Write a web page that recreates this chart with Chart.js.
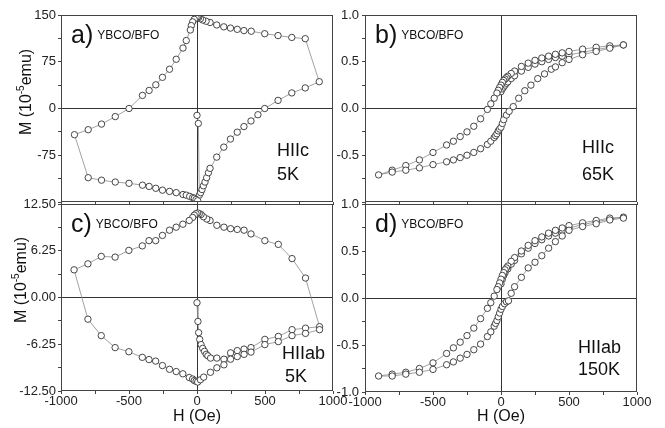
<!DOCTYPE html>
<html>
<head>
<meta charset="utf-8">
<script src="https://cdn.jsdelivr.net/npm/chart.js@4.4.1/dist/chart.umd.min.js"></script>
<style>
  html, body { margin: 0; padding: 0; background: #fff; }
  #wrap { position: relative; width: 665px; height: 428px; }
  #wrap canvas { position: absolute; left: 0; top: 0; }
</style>
</head>
<body>
<div id="wrap">
  <canvas id="ca" width="665" height="428"></canvas>
  <canvas id="cb" width="665" height="428"></canvas>
  <canvas id="cc" width="665" height="428"></canvas>
  <canvas id="cd" width="665" height="428"></canvas>
</div>
<script>
// ---- data (H in Oe, M in 1e-5 emu) ----
const hTicks = [-1000, -750, -500, -250, 0, 250, 500, 750, 1000];
const hLabels = ['-1000', '', '-500', '', '0', '', '500', '', '1000'];
const hLabelsNone = ['', '', '', '', '', '', '', '', ''];

// a) H||c, 5K
const aTicks = [-150, -112.5, -75, -37.5, 0, 37.5, 75, 112.5, 150];
const aTickLabels = ['', '', '-75', '', '0', '', '75', '', '150'];
const aH = [0, 10, 17, 27, 37, 47, 59, 71, 84, 96, 145, 197, 246, 296, 345, 397, 448, 498, 596, 697, 796, 899,
  796, 697, 596, 498, 399, 345, 296, 246, 197, 145, 96, 67, 42, 25, 12, 5,
  -7, -20, -32, -42, -49, -79, -103, -153, -202, -254, -303, -352, -401, -500, -601, -702, -800, -901,
  -800, -702, -601, -500, -401, -352, -303, -254, -202, -153, -103, -79, -54, -32, -20, -7, 5];
const aM = [-11, -24, -139, -135, -130, -124, -118, -111, -103, -96, -78, -62, -49, -38, -29, -20, -10, 0, 13, 25, 33, 43,
  112, 114, 117, 120, 124, 125, 127, 129, 131, 134, 138, 140, 142, 144, 146, 147,
  146, 143, 139, 133, 126, 109, 97, 79, 63, 50, 38, 29, 21, 0, -13, -25, -34, -42,
  -111, -115, -118, -120, -123, -125, -128, -131, -133, -135, -138, -139, -141, -143, -144, -146, -148];

// b) H||c, 65K
const bTicks = [-1, -0.75, -0.5, -0.25, 0, 0.25, 0.5, 0.75, 1];
const bTickLabels = ['', '', '-0.5', '', '0.0', '', '0.5', '', '1.0'];
const bH = [0, 10, 20, 30, 40, 50, 75, 100, 150, 200, 250, 300, 350, 400, 450, 500, 600, 700, 800, 900,
  800, 700, 600, 500, 450, 400, 350, 300, 250, 200, 150, 100, 75, 50, 40, 30, 20, 10, 0,
  -10, -20, -30, -50, -75, -100, -150, -200, -250, -300, -350, -400, -500, -600, -700, -800, -900,
  -800, -700, -600, -500, -400, -350, -300, -250, -200, -150, -100, -75, -50, -40, -30, -20, -10, 0,
  10, 20, 40, 60, 90, 130, 175, 220, 270, 320, 370, 400, 450, 500, 600, 700, 800, 900];
const bM = [0.18, 0.21, 0.23, 0.25, 0.27, 0.285, 0.32, 0.35, 0.40, 0.44, 0.475, 0.50, 0.525, 0.545, 0.56, 0.575, 0.60, 0.63, 0.655, 0.68,
  0.67, 0.655, 0.635, 0.61, 0.595, 0.58, 0.56, 0.54, 0.515, 0.485, 0.45, 0.40, 0.375, 0.345, 0.33, 0.315, 0.30, 0.28, 0.25,
  0.225, 0.195, 0.165, 0.11, 0.05, -0.01, -0.11, -0.19, -0.25, -0.30, -0.35, -0.39, -0.47, -0.55, -0.61, -0.66, -0.71,
  -0.68, -0.66, -0.635, -0.60, -0.57, -0.55, -0.525, -0.50, -0.47, -0.43, -0.385, -0.35, -0.31, -0.29, -0.27, -0.24, -0.22, -0.20,
  -0.16, -0.12, -0.07, -0.03, 0.02, 0.11, 0.19, 0.25, 0.32, 0.37, 0.42, 0.445, 0.49, 0.525, 0.575, 0.61, 0.645, 0.68];

// c) H||ab, 5K
const cTicks = [-12.5, -9.375, -6.25, -3.125, 0, 3.125, 6.25, 9.375, 12.5];
const cTickLabels = ['-12.50', '', '-6.25', '', '0.00', '', '6.25', '', '12.50'];
const cH = [0, 7, 12, 20, 30, 42, 55, 68, 80, 100, 146, 198, 247, 296, 346, 397, 499, 598, 699, 798, 901,
  798, 699, 598, 499, 397, 346, 296, 247, 198, 146, 96, 72, 47, 30, 17, 5,
  -7, -20, -32, -57, -104, -153, -202, -254, -304, -353, -402, -501, -602, -704, -802, -904,
  -802, -704, -602, -501, -402, -353, -304, -254, -202, -153, -104, -57, -32, -20, -7, 5,
  25, 49, 99, 146, 198, 247, 296, 346, 397, 499, 598, 699, 798, 901];
const cM = [-0.7, -3.2, -4.7, -5.6, -6.3, -6.8, -7.2, -7.6, -7.8, -8.1, -8.1, -8.25, -7.4, -7.1, -6.9, -6.7, -5.6, -5.2, -4.3, -4.1, -3.9,
  2.6, 5.2, 7.1, 7.6, 8.5, 9.0, 9.1, 9.2, 9.4, 9.65, 10.3, 10.5, 10.8, 11.1, 11.2, 11.3,
  11.2, 11.0, 10.7, 10.3, 9.8, 9.4, 9.0, 8.3, 7.6, 7.6, 6.9, 6.3, 5.4, 5.5, 4.5, 3.7,
  -2.9, -5.1, -6.7, -7.25, -8.0, -8.3, -8.5, -9.1, -9.6, -9.9, -10.2, -10.7, -10.9, -11.1, -11.2, -11.3,
  -11.0, -10.65, -10.0, -9.4, -9.0, -8.25, -7.9, -7.6, -7.3, -6.3, -5.9, -5.1, -4.8, -4.3];

// d) H||ab, 150K
const dTicks = [-1, -0.75, -0.5, -0.25, 0, 0.25, 0.5, 0.75, 1];
const dTickLabels = ['-1.0', '', '-0.5', '', '0.0', '', '0.5', '', '1.0'];
const dH = [0, 10, 20, 30, 50, 75, 100, 150, 200, 250, 300, 350, 400, 450, 500, 600, 700, 800, 900,
  800, 700, 600, 500, 450, 400, 350, 300, 250, 200, 150, 100, 75, 50, 40, 30, 20, 10, 0,
  -10, -20, -30, -50, -75, -100, -150, -200, -250, -300, -350, -400, -500, -600, -700, -800, -900,
  -800, -700, -600, -500, -400, -350, -300, -250, -200, -150, -100, -75, -50, -40, -30, -20, -10, 0,
  10, 25, 40, 55, 75, 100, 150, 200, 250, 300, 350, 400, 450, 500, 600, 700, 800, 900];
const dM = [0.15, 0.20, 0.24, 0.27, 0.31, 0.36, 0.40, 0.47, 0.53, 0.58, 0.62, 0.66, 0.69, 0.72, 0.745, 0.78, 0.81, 0.84, 0.86,
  0.85, 0.825, 0.80, 0.77, 0.745, 0.72, 0.69, 0.65, 0.61, 0.56, 0.50, 0.43, 0.39, 0.34, 0.32, 0.30, 0.27, 0.24, 0.20,
  0.16, 0.12, 0.09, 0.02, -0.05, -0.11, -0.22, -0.32, -0.40, -0.47, -0.53, -0.59, -0.69, -0.75, -0.79, -0.81, -0.83,
  -0.83, -0.81, -0.79, -0.76, -0.71, -0.68, -0.64, -0.60, -0.55, -0.49, -0.41, -0.36, -0.30, -0.27, -0.24, -0.20, -0.16, -0.12,
  -0.09, -0.06, -0.04, -0.03, 0.05, 0.12, 0.22, 0.32, 0.38, 0.45, 0.53, 0.60, 0.66, 0.72, 0.76, 0.79, 0.83, 0.85];

// ---- drawing ----
const FONT = '"Liberation Sans", Arial, Helvetica, sans-serif';

// frame, panel letters, sample name, field/temperature notes, axis titles
const panelText = {
  id: 'panelText',
  afterDraw(chart, args, o) {
    const { ctx, chartArea: a } = chart;
    ctx.save();
    ctx.strokeStyle = '#444';
    ctx.lineWidth = 1;
    ctx.strokeRect(a.left + 0.5, a.top + 0.5, a.right - a.left - 1, a.bottom - a.top - 1);

    ctx.fillStyle = '#111';
    ctx.textAlign = 'left';
    ctx.textBaseline = 'alphabetic';
    ctx.font = '25px ' + FONT;
    ctx.fillText(o.letter, a.left + 10, a.top + 28);
    const lw = ctx.measureText(o.letter).width;
    ctx.font = '12px ' + FONT;
    ctx.fillText('YBCO/BFO', a.left + 14 + lw, a.top + 24);

    ctx.font = '18px ' + FONT;
    ctx.fillText(o.cond[0], a.left + o.condX[0], a.top + o.condY[0]);
    ctx.fillText(o.cond[1], a.left + o.condX[1], a.top + o.condY[1]);

    if (o.yTitle) {
      ctx.save();
      ctx.font = '16px ' + FONT;
      const w1 = ctx.measureText('M (10').width;
      const w3 = ctx.measureText('emu)').width;
      ctx.font = '10px ' + FONT;
      const w2 = ctx.measureText('-5').width;
      const total = w1 + w2 + w3;
      ctx.translate(o.yTitle[0], o.yTitle[1] + total / 2);
      ctx.rotate(-Math.PI / 2);
      ctx.font = '16px ' + FONT;
      ctx.fillText('M (10', 0, 0);
      ctx.font = '10px ' + FONT;
      ctx.fillText('-5', w1, -7);
      ctx.font = '16px ' + FONT;
      ctx.fillText('emu)', w1 + w2, 0);
      ctx.restore();
    }
    if (o.xTitle) {
      ctx.font = '16px ' + FONT;
      ctx.textAlign = 'center';
      ctx.fillText('H (Oe)', (a.left + a.right) / 2, o.xTitle);
    }
    ctx.restore();
  }
};

const zeroLine = (c) => (c.tick && c.tick.value === 0 ? '#333' : 'rgba(0,0,0,0)');

function makeScale(vals, labels, horizontal, size, pad) {
  return {
    type: 'linear',
    min: vals[0],
    max: vals[vals.length - 1],
    afterBuildTicks: (ax) => { ax.ticks = vals.map((v) => ({ value: v })); },
    afterFit: (ax) => { if (horizontal) ax.height = size; else ax.width = size; },
    border: { display: false },
    grid: { color: zeroLine, lineWidth: 1, drawTicks: true, tickLength: 3, tickColor: '#444', tickWidth: 1 },
    ticks: {
      autoSkip: false, maxRotation: 0, minRotation: 0, padding: pad,
      color: '#222', font: { size: 13, family: FONT },
      callback: (v, i) => labels[i]
    }
  };
}

// box = chart area [left, top, right, bottom]; yw = width of the y axis, xh = height of the x axis
function panel(id, box, yw, xh, hs, ms, xLabels, yVals, yLabels, yPad, text) {
  const pts = hs.map((h, i) => ({ x: h, y: ms[i] }));
  return new Chart(document.getElementById(id), {
    type: 'scatter',
    data: {
      datasets: [{
        data: pts,
        showLine: true,
        borderColor: '#8a8a8a',
        borderWidth: 0.8,
        pointRadius: 3.2,
        pointBorderWidth: 0.9,
        pointBorderColor: '#333',
        pointBackgroundColor: '#fff'
      }]
    },
    options: {
      responsive: false,
      animation: false,
      events: [],
      layout: { padding: { left: box[0] - yw, top: box[1], right: 665 - box[2], bottom: 428 - box[3] - xh } },
      plugins: { legend: { display: false }, tooltip: { enabled: false }, panelText: text },
      scales: {
        x: makeScale(hTicks, xLabels, true, xh, 0),
        y: makeScale(yVals, yLabels, false, yw, yPad)
      }
    },
    plugins: [panelText]
  });
}

panel('ca', [61, 15, 333, 202], 61, 0, aH, aM, hLabelsNone, aTicks, aTickLabels, 2,
  { letter: 'a)', cond: ['HIIc', '5K'], condX: [216, 216], condY: [141, 165], yTitle: [31, 92] });
panel('cb', [365, 15, 637, 202], 32, 0, bH, bM, hLabelsNone, bTicks, bTickLabels, 3,
  { letter: 'b)', cond: ['HIIc', '65K'], condX: [217, 217], condY: [138, 165] });
panel('cc', [61, 204, 333, 391], 61, 30, cH, cM, hLabels, cTicks, cTickLabels, 2,
  { letter: 'c)', cond: ['HIIab', '5K'], condX: [221, 224], condY: [155, 178], yTitle: [26, 280], xTitle: 421 });
panel('cd', [365, 204, 637, 392], 32, 30, dH, dM, hLabels, dTicks, dTickLabels, 3,
  { letter: 'd)', cond: ['HIIab', '150K'], condX: [213, 213], condY: [149, 171], xTitle: 421 });
</script>
</body>
</html>
